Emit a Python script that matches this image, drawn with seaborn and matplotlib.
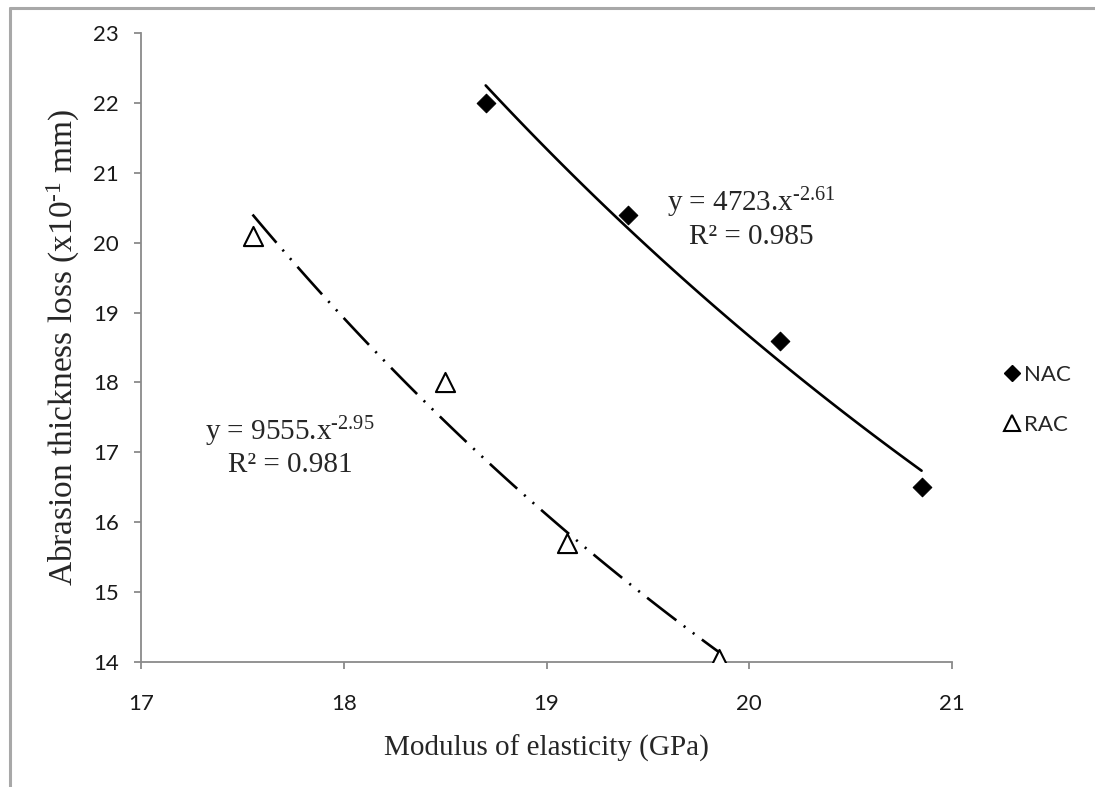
import numpy as np
import pandas as pd
import matplotlib
matplotlib.use("Agg")
import matplotlib.pyplot as plt
from matplotlib.lines import Line2D
import seaborn as sns

# --- data ---
nac_modulus = [18.70, 19.40, 20.15, 20.85]
nac_loss = [22.00, 20.40, 18.60, 16.50]
rac_modulus = [17.55, 18.50, 19.10, 19.85]
rac_loss = [20.10, 18.00, 15.70, 14.05]

nac_eq = ["y = 4723.x$^{\\text{-2.61}}$", "R² = 0.985"]
rac_eq = ["y = 9555.x$^{\\text{-2.95}}$", "R² = 0.981"]

x_ticks = [17, 18, 19, 20, 21]
y_ticks = [14, 15, 16, 17, 18, 19, 20, 21, 22, 23]

sns.set_style("ticks")
plt.rcParams["font.family"] = ["Lato", "DejaVu Sans"]
plt.rcParams["mathtext.fontset"] = "custom"
plt.rcParams["mathtext.rm"] = "Liberation Serif"
plt.rcParams["mathtext.it"] = "Liberation Serif:italic"

SERIF = ["Liberation Serif", "DejaVu Serif"]
AXIS_GREY = "#8a8a8a"


def power_fit(x, y):
    # least squares on log-log, same as an Excel power trendline
    b, ln_a = np.polyfit(np.log(x), np.log(y), 1)
    xs = np.linspace(min(x), max(x), 100)
    return pd.DataFrame({"x": xs, "y": np.exp(ln_a) * xs ** b})


nac = pd.DataFrame({"x": nac_modulus, "y": nac_loss})
rac = pd.DataFrame({"x": rac_modulus, "y": rac_loss})

fig = plt.figure(figsize=(10.95, 7.87), dpi=100)
ax = fig.add_axes([0.1288, 0.1588, 0.7406, 0.7993])

# trend lines
sns.lineplot(data=power_fit(nac_modulus, nac_loss), x="x", y="y", ax=ax,
             color="black", lw=1.9, zorder=2)
sns.lineplot(data=power_fit(rac_modulus, rac_loss), x="x", y="y", ax=ax,
             color="black", lw=1.9, zorder=2,
             linestyle=(0, (14, 3.5, 0.8, 3.5, 0.8, 3.5)))

# data points
sns.scatterplot(data=nac, x="x", y="y", ax=ax, marker="D", s=90,
                color="black", edgecolor="black", zorder=3)
sns.scatterplot(data=rac, x="x", y="y", ax=ax, marker="^", s=190,
                facecolor="white", edgecolor="black", linewidth=1.5, zorder=3)

# equations
eq_size = 21
ax.text(20.01, 20.57, nac_eq[0], family=SERIF, fontsize=eq_size, ha="center", va="center")
ax.text(20.01, 20.08, nac_eq[1], family=SERIF, fontsize=eq_size, ha="center", va="center")
ax.text(17.735, 17.29, rac_eq[0], family=SERIF, fontsize=eq_size, ha="center", va="center")
ax.text(17.735, 16.82, rac_eq[1], family=SERIF, fontsize=eq_size, ha="center", va="center")

ax.set_xlim(17, 21)
ax.set_ylim(14, 23)
ax.set_xticks(x_ticks)
ax.set_yticks(y_ticks)
ax.tick_params(axis="both", colors=AXIS_GREY, labelcolor="#1a1a1a",
               labelsize=16, length=5, width=1.3)
ax.tick_params(axis="x", pad=18)
ax.tick_params(axis="y", pad=11)

sns.despine(ax=ax)
for side in ["left", "bottom"]:
    ax.spines[side].set_color(AXIS_GREY)
    ax.spines[side].set_linewidth(1.3)

ax.set_xlabel("Modulus of elasticity (GPa)", family=SERIF, fontsize=21, labelpad=15)
ax.set_ylabel("Abrasion thickness loss (x10$^{\\text{-1}}$ mm)", family=SERIF,
              fontsize=24, labelpad=8)

handles = [
    Line2D([], [], marker="D", linestyle="none", color="black", markersize=8),
    Line2D([], [], marker="^", linestyle="none", markerfacecolor="white",
           markeredgecolor="black", markeredgewidth=1.5, markersize=11),
]
fig.legend(handles, ["NAC", "RAC"], loc="center left",
           bbox_to_anchor=(0.906, 0.492), frameon=False, fontsize=16,
           handlelength=0.8, handletextpad=0.15, labelspacing=1.35, borderpad=0)

# grey frame on the left and top edges of the picture
fig.add_artist(Line2D([0.0088, 0.0088], [0.0, 0.99], transform=fig.transFigure,
                      color="#a8a8a8", lw=2.2))
fig.add_artist(Line2D([0.0088, 1.0], [0.99, 0.99], transform=fig.transFigure,
                      color="#a8a8a8", lw=2.2))

fig.savefig("out.png", dpi=100)
